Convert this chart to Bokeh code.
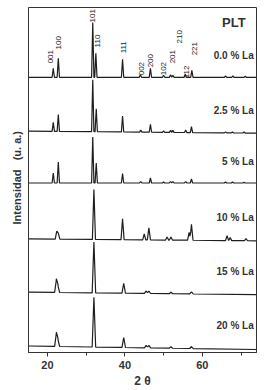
import numpy as np
from bokeh.plotting import figure
from bokeh.models import FixedTicker, Label, Range1d, Title
from bokeh.core.properties import value
from bokeh.embed import file_html
from bokeh.resources import INLINE

# ---- data ----
series_names = ["0.0 % La", "2.5 % La", "5 % La", "10 % La", "15 % La", "20 % La"]
offsets_left = [276, 222, 170, 114, 60.5, 6.5]
offsets_right = [276, 220, 170, 112, 58, 3]

pos_0 = [21.5, 22.8, 31.7, 32.5, 39.4, 44.0, 46.6, 50.0, 51.8, 52.4, 55.6, 57.3, 66.0, 67.9, 71.1]
h_0 = [9, 19, 55, 24, 18, 2.5, 9, 2, 2.5, 2, 3, 7, 1.5, 1.5, 1]
pos_25 = [21.5, 22.8, 31.7, 32.6, 39.4, 44.1, 46.6, 50.0, 51.8, 52.4, 55.7, 57.2, 66.0, 67.8, 70.8]
h_25 = [9, 17, 52, 23, 16, 2, 8, 1.5, 2, 2, 2.5, 6, 1, 1, 1]
pos_5 = [21.5, 22.8, 31.7, 32.6, 39.4, 44.1, 46.6, 50.0, 51.8, 52.4, 55.7, 57.2, 66.0, 67.8, 70.8]
h_5 = [10, 21, 46, 20, 9.5, 1.5, 5, 1, 1.5, 1.5, 1.5, 4, 1, 1, 0.8]
pos_10 = [22.4, 22.8, 32.0, 39.4, 45.0, 46.2, 50.9, 51.9, 56.6, 57.2, 66.4, 67.2, 71.3]
h_10 = [8, 6, 50, 21, 6, 12, 3, 3, 8, 16, 5, 3, 2]
pos_15 = [22.3, 22.7, 32.0, 39.7, 45.5, 46.2, 51.9, 57.2]
h_15 = [13, 7, 51, 10, 2.5, 2.5, 1.5, 2]
pos_20 = [22.3, 22.7, 32.0, 39.7, 45.5, 46.2, 51.9, 57.2]
h_20 = [13.5, 7, 50, 10, 2.5, 2.5, 1.5, 2]

peak_positions = [pos_0, pos_25, pos_5, pos_10, pos_15, pos_20]
peak_heights = [h_0, h_25, h_5, h_10, h_15, h_20]
half_widths = [0.3, 0.3, 0.3, 0.4, 0.45, 0.45]

hkl_labels = ["001", "100", "101", "110", "111", "002", "200", "102", "201", "210", "112", "221"]
hkl_x = [20.9, 22.86, 31.7, 32.9, 39.6, 44.3, 46.7, 50.1, 52.3, 54.2, 55.9, 57.9]
hkl_y = [290, 304, 331, 306, 300, 278, 286, 278, 290, 310, 275, 298]

x_ticks = [20, 40, 60]
x_minor = [30, 50, 70]
X0, X1 = 15.1, 74.0

p = figure(width=269, height=390, output_backend="svg", toolbar_location=None,
           x_range=Range1d(X0, X1), y_range=Range1d(0, 346),
           min_border_left=28, min_border_right=13, min_border_top=7, min_border_bottom=37)
p.background_fill_color = "white"
p.border_fill_color = "white"
p.outline_line_color = "#333333"
p.outline_line_width = 1
p.grid.visible = False
p.yaxis.visible = False

ax = p.xaxis[0]
ax.ticker = FixedTicker(ticks=x_ticks, minor_ticks=x_minor)
ax.axis_line_color = "#333333"
ax.major_tick_in = 0
ax.major_tick_out = 4
ax.minor_tick_in = 0
ax.minor_tick_out = 3
ax.major_tick_line_color = "#333333"
ax.minor_tick_line_color = "#333333"
ax.major_label_text_font = "Liberation Sans"
ax.major_label_text_font_style = "bold"
ax.major_label_text_font_size = "11px"
ax.major_label_text_color = "#333333"
ax.major_label_standoff = 4
ax.axis_label = "2 θ"
ax.axis_label_text_font = "Liberation Sans"
ax.axis_label_text_font_style = "bold"
ax.axis_label_text_font_size = "12px"
ax.axis_label_text_color = "#333333"
ax.axis_label_standoff = 2

for i in range(len(series_names)):
    pos = peak_positions[i]
    hs = peak_heights[i]
    w = half_widths[i]
    xs = {X0 + 0.1, X1 - 0.05}
    for c in pos:
        xs.update([c - w, c, c + w])
    xs = np.array(sorted(xs))
    base = offsets_left[i] + (offsets_right[i] - offsets_left[i]) * (xs - X0) / (X1 - X0)
    ys = base.copy()
    for c, h in zip(pos, hs):
        ys += h * np.clip(1 - np.abs(xs - c) / w, 0, None)
    p.line(xs, ys, line_color="#1e1e1e", line_width=1.2)
    ylab = (offsets_left[i] + offsets_right[i]) / 2 + 22
    p.add_layout(Label(x=73.3, y=ylab, text=series_names[i], text_align="right",
                       text_baseline="middle", text_font="Liberation Sans",
                       text_font_style="bold", text_font_size="10px", text_color="#333333"))

p.text(x=hkl_x, y=hkl_y, text=hkl_labels, angle=np.pi / 2, text_align="left",
       text_baseline="middle", text_font=value("Liberation Sans"),
       text_font_size="8px", text_color="#222222")

p.add_layout(Label(x=71.2, y=331, text="PLT", text_align="right", text_baseline="middle",
                   text_font="Liberation Sans", text_font_style="bold",
                   text_font_size="13px", text_color="#333333"))

ytitle = Title(text="Intensidad\u00a0\u00a0\u00a0(u. a.)", align="left", offset=128, standoff=12,
               text_font="Liberation Sans", text_font_style="bold",
               text_font_size="11px", text_color="#333333")
p.add_layout(ytitle, "left")

open("out.html", "w").write(file_html(p, INLINE))
